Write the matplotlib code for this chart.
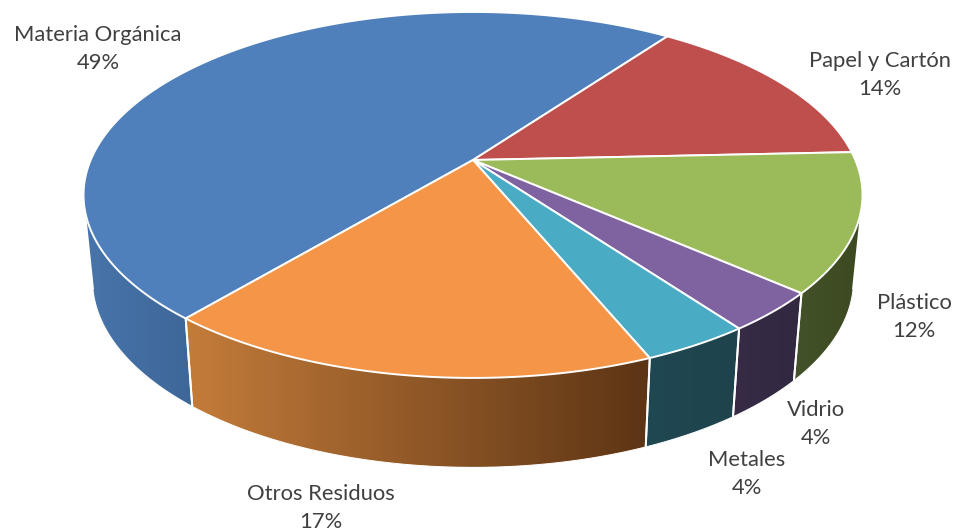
import numpy as np
import matplotlib
matplotlib.use("Agg")
import matplotlib.pyplot as plt
from matplotlib.patches import Polygon
from matplotlib.colors import to_rgb

categories = ["Materia Orgánica", "Papel y Cartón", "Plástico", "Vidrio", "Metales", "Otros Residuos"]
pct_labels = ["49%", "14%", "12%", "4%", "4%", "17%"]
values = [48.9, 14.3, 12.2, 3.5, 3.8, 17.3]
top_colors = ["#4F80BB", "#BE4F4C", "#9BBA59", "#7F63A1", "#4AABC5", "#F49547"]
wall_left = ["#4875AB", "#8E3B38", "#43522A", "#372B46", "#204852", "#C47C3A"]
wall_right = ["#3E6698", "#8E3B38", "#3C4921", "#322840", "#1E434D", "#5C3414"]
label_xy = [(98, 49), (880, 75), (914, 317), (816, 424), (747, 474), (321, 508)]

START = 219.9  # first slice start, clockwise from top, degrees
CX, CY, RX, B, K = 473.0, 160.0, 382.3, 176.3, 0.191


def project(theta):
    """Perspective projection of the pie's top rim (pixel coordinates)."""
    u, v = np.sin(theta), np.cos(theta)
    w = 1 + K * v
    return CX + RX * u / w, CY - B * v / w


def lower(x, y):
    return CX + (x - CX) * 0.977, 1.025 * y + 80


fig = plt.figure(figsize=(9.55, 5.32), dpi=100)
ax = fig.add_axes([0, 0, 1, 1])

edges = np.radians(START + np.concatenate([[0], np.cumsum(values)]) * 360 / sum(values))

for i in range(len(values)):
    t = np.linspace(edges[i], edges[i + 1], 600)
    x, y = project(t)
    xb, yb = lower(x, y)
    cross = np.gradient(x) * (yb - y) - np.gradient(y) * (xb - x)
    vis = cross < 0
    if vis.sum() < 2:
        continue
    px = np.r_[x[vis], xb[vis][::-1]]
    py = np.r_[y[vis], yb[vis][::-1]]
    x0, x1 = px.min(), px.max()
    c0, c1 = np.array(to_rgb(wall_left[i])), np.array(to_rgb(wall_right[i]))
    grad = np.linspace(0, 1, 256)[None, :, None] * (c1 - c0) + c0
    im = ax.imshow(grad, extent=(x0, x1, py.max(), py.min()), aspect="auto",
                   interpolation="bilinear", zorder=2)
    poly = Polygon(np.c_[px, py], closed=True, transform=ax.transData)
    im.set_clip_path(poly)
    # soften the clipped outer border
    ax.plot(xb[vis], yb[vis], color="white", lw=0.7, zorder=3)
    ax.plot([x[vis][0], xb[vis][0]], [y[vis][0], yb[vis][0]], color="white", lw=1.4,
            zorder=3, solid_capstyle="butt")
    ax.plot([x[vis][-1], xb[vis][-1]], [y[vis][-1], yb[vis][-1]], color="white", lw=1.4,
            zorder=3, solid_capstyle="butt")

# top faces
for i in range(len(values)):
    t = np.linspace(edges[i], edges[i + 1], 300)
    x, y = project(t)
    ax.fill(np.r_[CX, x], np.r_[CY, y], facecolor=top_colors[i], edgecolor="white",
            lw=1.4, joinstyle="round", zorder=4)

for name, pct, (lx, ly) in zip(categories, pct_labels, label_xy):
    ax.text(lx, ly, f"{name}\n{pct}", ha="center", va="center", family="Lato", fontsize=15.8,
            color="#404040", linespacing=1.49, zorder=5)

ax.set_xlim(0, 955)
ax.set_ylim(532, 0)
ax.axis("off")
fig.savefig("out.png", dpi=100, facecolor="white")
